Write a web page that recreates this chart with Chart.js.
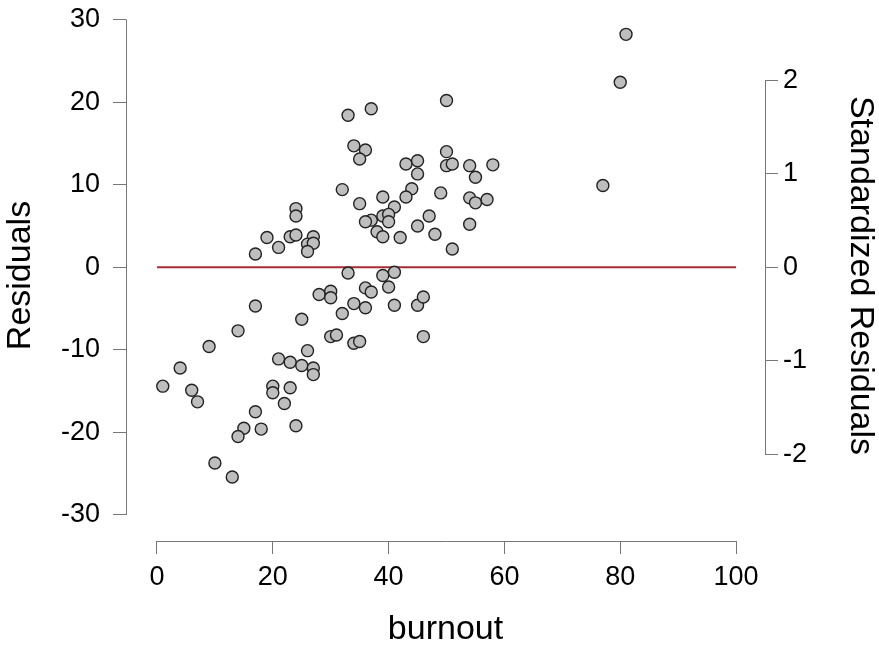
<!DOCTYPE html>
<html>
<head>
<meta charset="utf-8">
<script src="https://cdn.jsdelivr.net/npm/chart.js@4"></script>
<style>
  html, body { margin: 0; padding: 0; background: #fff; }
  #wrap { width: 879px; height: 649px; }
</style>
</head>
<body>
<div id="wrap"><canvas id="myChart" width="879" height="649"></canvas></div>
<script>
// burnout score and model residual for each case
const burnout = [24, 24, 19, 23, 24, 27, 21, 26, 27, 26, 17, 33, 28, 30, 30, 17, 25, 32, 14, 9,
    30, 31, 4, 1, 6, 7, 21, 23, 25, 27, 27, 26, 20, 20, 23, 22, 17, 15, 14, 18,
    24, 10, 13, 50, 33, 37, 34, 36, 35, 50, 43, 45, 45, 50, 51, 54, 58, 55, 32, 35,
    39, 44, 43, 49, 54, 55, 57, 41, 39, 40, 37, 36, 40, 38, 39, 42, 45, 47, 48, 54,
    51, 39, 41, 36, 37, 40, 34, 36, 41, 45, 46, 34, 35, 46, 77, 80, 81];
const residuals = [7.1, 6.2, 3.6, 3.7, 3.9, 3.7, 2.4, 2.8, 2.9, 1.9, 1.6, -0.7, -3.3, -2.9, -3.7, -4.7, -6.3, -5.6, -7.7, -9.6,
    -8.4, -8.2, -12.2, -14.4, -14.9, -16.3, -11.1, -11.5, -11.9, -12.2, -13.0, -10.1, -14.4, -15.2, -14.6, -16.5, -17.5, -19.5, -20.5, -19.6,
    -19.2, -23.7, -25.4, 20.2, 18.4, 19.2, 14.7, 14.2, 13.1, 14.0, 12.5, 12.9, 11.3, 12.3, 12.5, 12.3, 12.4, 10.9, 9.4, 7.7,
    8.5, 9.5, 8.5, 9.0, 8.4, 7.8, 8.2, 7.3, 6.2, 6.4, 5.7, 5.5, 5.5, 4.3, 3.7, 3.6, 5.0, 6.2, 4.0, 5.2,
    2.2, -1.0, -0.6, -2.5, -3.0, -2.4, -4.4, -4.9, -4.6, -4.6, -3.6, -9.2, -9.0, -8.4, 9.9, 22.4, 28.2];

const xTicks = [0, 20, 40, 60, 80, 100];
const yTicks = [-30, -20, -10, 0, 10, 20, 30];
const stdTicks = [-2, -1, 0, 1, 2];
const residualSD = 11.32;

const xMin = -5.35, xMax = 105;
const yMin = -33.15, yMax = 31.15;

let points = [];
for (let i = 0; i < burnout.length; i++) {
    points.push({ x: burnout[i], y: residuals[i] });
}

const axisColor = '#777';
const tickFont = { family: 'Liberation Sans, Arial, sans-serif', size: 27 };
const titleFont = { family: 'Liberation Sans, Arial, sans-serif', size: 34, lineHeight: 1.1 };

// R style axes: the line only spans the tick range
const rangeAxes = {
    id: 'rangeAxes',
    afterDraw(chart) {
        const { ctx, chartArea, scales } = chart;
        ctx.save();
        ctx.strokeStyle = axisColor;
        ctx.lineWidth = 1;
        ctx.beginPath();
        ctx.moveTo(chartArea.left + 0.5, scales.y.getPixelForValue(yTicks[0]));
        ctx.lineTo(chartArea.left + 0.5, scales.y.getPixelForValue(yTicks[yTicks.length - 1]));
        ctx.moveTo(chartArea.right + 0.5, scales.y2.getPixelForValue(stdTicks[0]));
        ctx.lineTo(chartArea.right + 0.5, scales.y2.getPixelForValue(stdTicks[stdTicks.length - 1]));
        ctx.moveTo(scales.x.getPixelForValue(xTicks[0]), chartArea.bottom + 0.5);
        ctx.lineTo(scales.x.getPixelForValue(xTicks[xTicks.length - 1]), chartArea.bottom + 0.5);
        ctx.stroke();
        ctx.restore();
    }
};

function fixTicks(list) {
    return function (scale) {
        scale.ticks = list.map(v => ({ value: v }));
    };
}

const tickGrid = {
    display: true,
    drawOnChartArea: false,
    drawTicks: true,
    tickLength: 13,
    color: axisColor,
    lineWidth: 1
};

const config = {
    type: 'scatter',
    data: {
        datasets: [{
            type: 'line',
            data: [{ x: 0, y: 0 }, { x: 100, y: 0 }],
            borderColor: 'rgb(165, 45, 55)',
            borderWidth: 2,
            pointRadius: 0,
            order: 2
        }, {
            data: points,
            backgroundColor: 'rgb(190, 190, 190)',
            borderColor: '#222',
            borderWidth: 1.4,
            pointRadius: 6,
            order: 1
        }]
    },
    options: {
        responsive: false,
        animation: false,
        layout: { padding: { top: 10, left: 0, right: 0, bottom: 0 } },
        plugins: { legend: { display: false }, tooltip: { enabled: false } },
        scales: {
            x: {
                type: 'linear',
                min: xMin,
                max: xMax,
                afterBuildTicks: fixTicks(xTicks),
                afterFit(scale) { scale.height = 108; scale.paddingLeft = 0; scale.paddingRight = 0; },
                border: { display: false },
                grid: tickGrid,
                ticks: { color: '#000', font: tickFont, padding: 7, maxRotation: 0 },
                title: { display: true, text: 'burnout', color: '#000', font: titleFont, padding: { top: 0, bottom: 1 } }
            },
            y: {
                type: 'linear',
                position: 'left',
                min: yMin,
                max: yMax,
                afterBuildTicks: fixTicks(yTicks),
                afterFit(scale) { scale.width = 126; scale.paddingTop = 0; scale.paddingBottom = 0; },
                border: { display: false },
                grid: tickGrid,
                ticks: { color: '#000', font: tickFont, padding: 13 },
                title: { display: true, text: 'Residuals', color: '#000', font: titleFont, padding: { top: 2, bottom: 0 } }
            },
            y2: {
                type: 'linear',
                position: 'right',
                min: yMin / residualSD,
                max: yMax / residualSD,
                afterBuildTicks: fixTicks(stdTicks),
                afterFit(scale) { scale.width = 114; scale.paddingTop = 0; scale.paddingBottom = 0; },
                border: { display: false },
                grid: tickGrid,
                ticks: { color: '#000', font: tickFont, padding: 5 },
                title: { display: true, text: 'Standardized Residuals', color: '#000', font: titleFont, padding: { top: 0, bottom: 0 } }
            }
        }
    },
    plugins: [rangeAxes]
};

const myChart = new Chart(document.getElementById('myChart'), config);
</script>
</body>
</html>
